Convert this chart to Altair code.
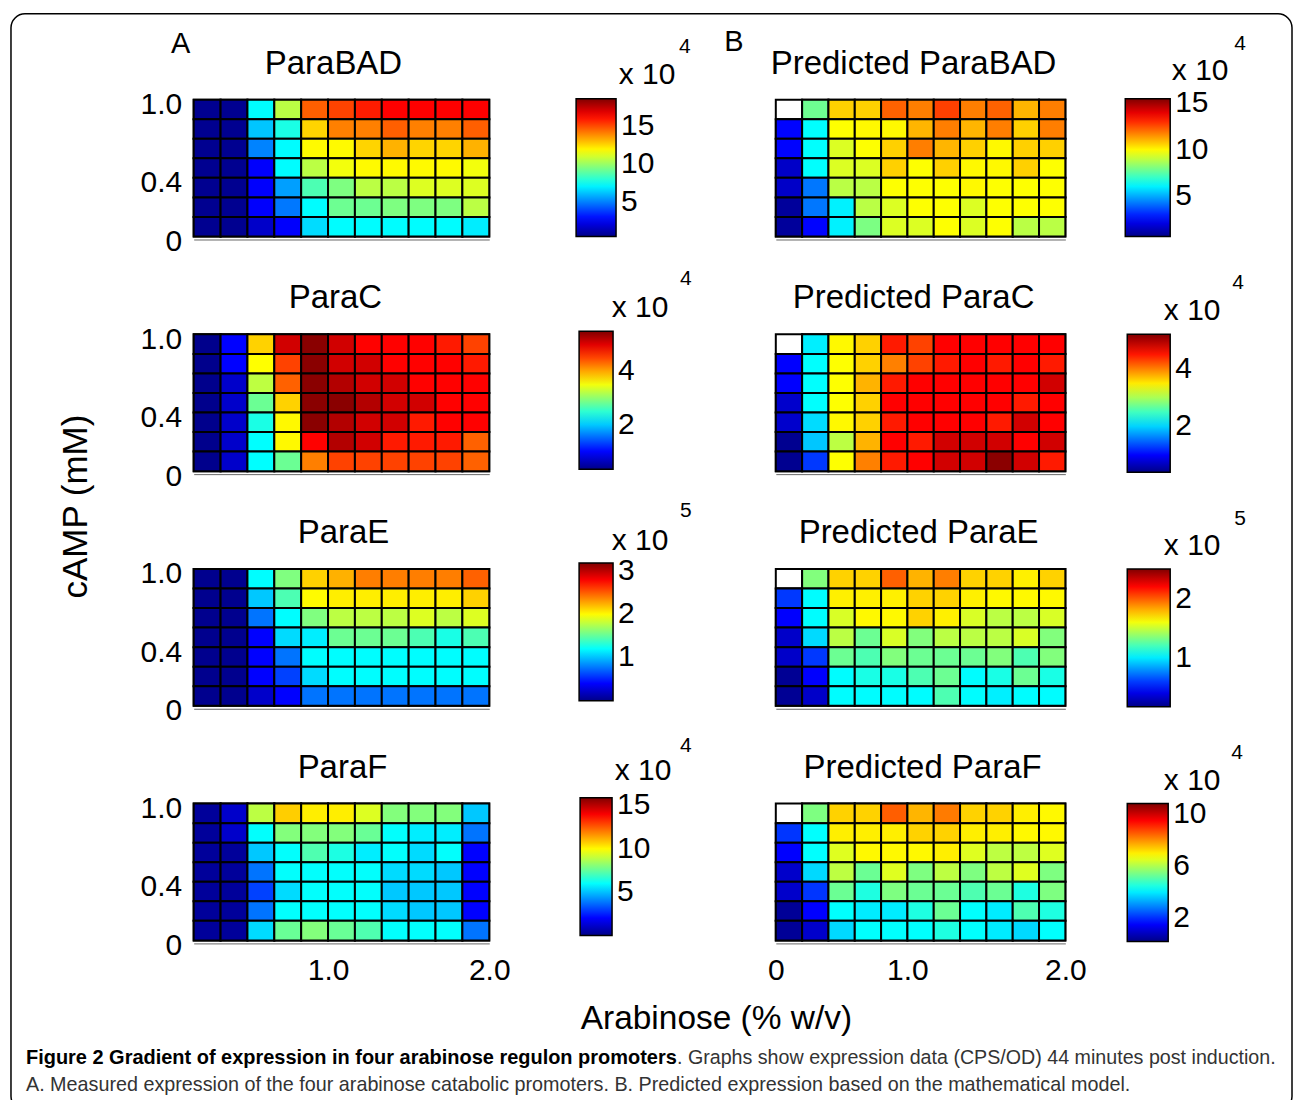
import altair as alt
import pandas as pd

FONT = "Liberation Sans"

# ---------------- data (rows listed from cAMP = 1.0 at top down to cAMP = 0) -------------
PARABAD = [
    [0.5, 0.5, 7.2, 10.6, 14.7, 15.2, 15.9, 16.4, 16.4, 16.4, 16.4],
    [0.5, 0.5, 6.2, 7.7, 12.6, 14.1, 14.1, 14.7, 14.1, 14.1, 14.7],
    [0.5, 0.5, 5.0, 7.2, 11.9, 11.9, 12.6, 13.2, 12.6, 12.6, 13.2],
    [0.5, 0.5, 2.6, 7.2, 10.6, 11.6, 11.9, 11.9, 11.9, 11.9, 11.6],
    [0.5, 0.5, 2.6, 5.5, 8.6, 9.5, 10.6, 10.6, 11.2, 11.2, 11.2],
    [0.5, 0.5, 2.6, 4.8, 7.2, 9.2, 9.2, 9.5, 9.5, 9.5, 10.6],
    [0.5, 0.5, 1.6, 2.6, 6.6, 7.2, 7.2, 7.2, 7.2, 7.2, 6.9],
]
PRED_PARABAD = [
    [None, 7.8, 10.6, 10.6, 12.2, 11.8, 12.7, 11.8, 12.2, 11.0, 11.8],
    [2.5, 6.2, 9.9, 10.0, 10.0, 11.0, 11.8, 11.0, 11.8, 10.6, 11.8],
    [2.5, 6.2, 9.4, 9.9, 10.6, 11.8, 11.0, 10.6, 10.0, 10.6, 10.6],
    [1.6, 6.2, 9.4, 9.4, 10.6, 9.9, 10.6, 10.0, 10.0, 10.6, 9.9],
    [1.6, 4.2, 8.9, 8.9, 9.9, 9.9, 9.9, 10.0, 9.9, 9.9, 9.9],
    [0.9, 4.2, 6.0, 8.9, 9.4, 9.9, 9.9, 9.4, 9.9, 9.9, 9.9],
    [0.9, 2.5, 6.0, 8.0, 9.4, 9.4, 9.9, 9.4, 9.9, 8.9, 8.9],
]
PARAC = [
    [0.35, 0.98, 3.79, 5.09, 5.45, 5.09, 4.85, 4.85, 4.85, 4.72, 4.52],
    [0.35, 0.98, 3.56, 4.52, 5.45, 5.09, 5.09, 4.85, 4.85, 4.85, 4.72],
    [0.35, 0.69, 3.23, 4.36, 5.45, 5.24, 5.09, 5.09, 4.85, 4.85, 4.85],
    [0.35, 0.69, 2.81, 3.79, 5.45, 5.45, 5.24, 5.09, 5.09, 4.85, 4.85],
    [0.35, 0.69, 2.40, 3.59, 5.45, 5.24, 5.09, 5.09, 4.72, 4.85, 4.85],
    [0.35, 0.69, 2.27, 3.59, 4.85, 5.24, 5.09, 4.72, 4.72, 4.72, 4.36],
    [0.35, 0.69, 2.27, 2.81, 4.21, 4.52, 4.52, 4.52, 4.52, 4.52, 4.36],
]
PRED_PARAC = [
    [None, 2.13, 3.43, 3.62, 4.48, 4.29, 4.6, 4.6, 4.6, 4.6, 4.6],
    [1.01, 2.21, 3.40, 3.62, 4.0, 4.29, 4.48, 4.6, 4.48, 4.6, 4.48],
    [1.01, 2.21, 3.40, 3.76, 4.48, 4.6, 4.6, 4.6, 4.6, 4.6, 4.82],
    [0.75, 2.21, 3.40, 3.62, 4.6, 4.6, 4.6, 4.6, 4.6, 4.48, 4.6],
    [0.75, 2.04, 3.43, 3.62, 4.48, 4.6, 4.6, 4.6, 4.48, 4.82, 4.6],
    [0.45, 1.94, 3.09, 3.76, 4.6, 4.48, 4.82, 4.82, 4.82, 4.6, 4.82],
    [0.45, 1.27, 3.40, 4.0, 4.48, 4.6, 4.82, 4.82, 5.15, 4.82, 4.48],
]
PARAE = [
    [0.02, 0.02, 1.19, 1.59, 2.13, 2.23, 2.39, 2.39, 2.39, 2.39, 2.48],
    [0.02, 0.02, 1.02, 1.43, 2.0, 2.04, 2.04, 2.04, 2.04, 2.04, 2.13],
    [0.02, 0.02, 0.76, 1.19, 1.59, 1.78, 1.78, 1.78, 1.88, 1.78, 1.88],
    [0.02, 0.02, 0.40, 1.08, 1.14, 1.53, 1.53, 1.53, 1.43, 1.27, 1.43],
    [0.02, 0.02, 0.40, 0.76, 1.19, 1.19, 1.19, 1.19, 1.19, 1.19, 1.19],
    [0.02, 0.02, 0.40, 0.60, 1.08, 1.19, 1.19, 1.19, 1.19, 1.19, 1.19],
    [0.02, 0.02, 0.22, 0.40, 0.76, 0.76, 0.76, 0.76, 0.76, 0.76, 0.76],
]
PRED_PARAE = [
    [None, 1.34, 1.73, 1.73, 1.99, 1.80, 1.92, 1.73, 1.73, 1.66, 1.73],
    [0.59, 1.04, 1.66, 1.66, 1.66, 1.73, 1.73, 1.66, 1.64, 1.64, 1.64],
    [0.46, 1.04, 1.54, 1.64, 1.64, 1.73, 1.66, 1.54, 1.47, 1.47, 1.54],
    [0.33, 0.96, 1.47, 1.29, 1.54, 1.34, 1.47, 1.47, 1.47, 1.54, 1.34],
    [0.33, 0.59, 1.29, 1.22, 1.34, 1.29, 1.29, 1.29, 1.34, 1.22, 1.34],
    [0.20, 0.46, 1.04, 1.10, 1.10, 1.22, 1.29, 1.04, 1.10, 1.29, 1.10],
    [0.20, 0.33, 1.04, 1.04, 1.04, 1.04, 1.22, 1.04, 1.01, 1.04, 1.04],
]
PARAF = [
    [0.3, 1.1, 8.9, 10.7, 10.2, 10.2, 9.4, 8.0, 8.0, 8.0, 5.1],
    [0.3, 1.1, 6.0, 8.0, 8.0, 8.0, 7.6, 6.0, 5.7, 5.7, 3.8],
    [0.3, 0.3, 5.1, 6.0, 7.2, 6.4, 5.7, 6.0, 5.4, 6.0, 2.0],
    [0.3, 0.3, 3.8, 6.0, 6.0, 6.0, 6.0, 5.4, 5.4, 5.1, 2.0],
    [0.3, 0.3, 3.0, 5.4, 6.0, 6.0, 6.0, 5.1, 5.1, 5.1, 2.0],
    [0.3, 0.3, 3.8, 6.0, 6.0, 6.0, 6.0, 5.4, 5.1, 5.1, 2.0],
    [0.3, 0.3, 5.4, 7.6, 8.0, 7.6, 7.2, 6.0, 6.0, 6.0, 3.8],
]
PRED_PARAF = [
    [None, 5.5, 7.3, 7.3, 8.5, 7.6, 8.2, 7.3, 7.3, 7.0, 6.9],
    [2.1, 4.2, 7.0, 7.0, 7.0, 7.3, 7.3, 7.0, 7.0, 6.9, 6.9],
    [1.55, 4.2, 6.5, 6.9, 6.9, 6.9, 7.0, 6.5, 6.15, 6.15, 6.5],
    [0.97, 3.8, 6.15, 5.3, 6.5, 5.5, 6.15, 5.5, 6.15, 6.5, 5.5],
    [0.97, 2.1, 5.3, 4.5, 5.5, 5.3, 5.3, 5.0, 5.3, 4.5, 5.5],
    [0.4, 1.55, 4.2, 4.0, 4.0, 4.5, 5.3, 4.2, 4.0, 5.0, 4.5],
    [0.4, 0.97, 3.8, 4.2, 4.2, 4.2, 4.5, 4.2, 4.0, 3.8, 4.2],
]

GRIDS = [PARABAD, PRED_PARABAD, PARAC, PRED_PARAC, PARAE, PRED_PARAE, PARAF, PRED_PARAF]
TITLES = ["ParaBAD", "Predicted ParaBAD", "ParaC", "Predicted ParaC",
          "ParaE", "Predicted ParaE", "ParaF", "Predicted ParaF"]
C_LO = [0.35, 0.6, 0.33, 0.41, 0.0, 0.17, 0.0, 0.23]
C_HI = [18.7, 15.5, 5.5, 5.2, 3.18, 2.5, 15.9, 10.8]
C_TICKS = [[5, 10, 15], [5, 10, 15], [2, 4], [2, 4], [1, 2, 3], [1, 2], [5, 10, 15], [2, 6, 10]]
C_EXP = ["4", "4", "4", "4", "5", "5", "4", "4"]

X_TICKS_LEFT = [5, 11]
X_LABELS_LEFT = ["1.0", "2.0"]
X_TICKS_RIGHT = [0, 5, 11]
X_LABELS_RIGHT = ["0", "1.0", "2.0"]
Y_TICKS = [0, 3, 7]
Y_LABELS = ["0", "0.4", "1.0"]

N_COLS = 11
N_ROWS = 7

CAPTION_BOLD = "Figure 2 Gradient of expression in four arabinose regulon promoters"
CAPTION_REST = ". Graphs show expression data (CPS/OD) 44 minutes post induction."
CAPTION_LINE2 = ("A. Measured expression of the four arabinose catabolic promoters. "
                 "B. Predicted expression based on the mathematical model.")

# jet colormap
JET_T = [0.0, 0.125, 0.375, 0.625, 0.875, 1.0]
JET_C = ["#000088", "#0000ff", "#00ffff", "#ffff00", "#ff0000", "#800000"]

# ---------------- layout (pixels, relative to each panel's plot area) -------------------
H = 137
W_LEFT = 296
W_RIGHT = 290
TITLE_X = [140, 138, 142, 138, 150, 143, 149, 147]
TITLE_Y = -36
LEG_X = [383, 350, 386, 352, 386, 352, 387, 352]
LEG_Y = [-1, -1, -3, 0, -6, 0, -6, 0]
LEG_W = [40, 45, 34, 43, 34, 43, 32, 41]
X10_POS = [(454, -25), (425, -29), (447, -26), (417, -23),
           (447, -28), (417, -23), (450, -33), (417, -23)]
EXP_POS = [(492, -53), (465, -56), (493, -55), (463, -51),
           (493, -58), (465, -50), (493, -58), (462, -51)]


def to_df(grid):
    recs = []
    for r, row in enumerate(grid):
        yb = N_ROWS - 1 - r
        for c, v in enumerate(row):
            recs.append({"x0": c, "x1": c + 1, "y0": yb, "y1": yb + 1, "v": v})
    return pd.DataFrame(recs)


def label_expr(ticks, labels):
    expr = "''"
    for t, l in zip(ticks, labels):
        expr = f"datum.value == {t} ? '{l}' : ({expr})"
    return expr


def text_layer(txt, x, y, size, weight="normal", align="left", color="black"):
    return alt.Chart(pd.DataFrame({"t": [txt]})).mark_text(
        font=FONT, fontSize=size, fontWeight=weight, align=align,
        baseline="middle", color=color
    ).encode(text="t:N", x=alt.value(x), y=alt.value(y))


def panel(i):
    col = i % 2
    row = i // 2
    left = col == 0
    bottom = row == 3
    w = W_LEFT if left else W_RIGHT
    df = to_df(GRIDS[i])

    xt = X_TICKS_LEFT if left else X_TICKS_RIGHT
    xl = X_LABELS_LEFT if left else X_LABELS_RIGHT
    xaxis_kw = dict(
        values=xt, labelExpr=label_expr(xt, xl), labels=bottom, ticks=False,
        grid=False, domain=True, domainColor="#666666", domainWidth=1, offset=3,
        labelFont=FONT, labelFontSize=30, labelColor="black", labelPadding=12,
        labelFlush=False, title="",
    )
    if left and bottom:
        xaxis_kw.update(title="Arabinose (% w/v)", titleFont=FONT, titleFontSize=33.5,
                        titleFontWeight="normal", titleColor="black",
                        titleX=523, titleY=75, titleAlign="center", titleBaseline="middle")
    yaxis_kw = dict(
        values=Y_TICKS, labelExpr=label_expr(Y_TICKS, Y_LABELS), labels=left,
        ticks=False, grid=False, domain=False, labelFont=FONT, labelFontSize=30,
        labelColor="black", labelPadding=12, labelOffset=5, labelFlush=False, title="",
    )
    if left and row == 1:
        yaxis_kw.update(title="cAMP (mM)", titleFont=FONT, titleFontSize=35,
                        titleFontWeight="normal", titleColor="black",
                        titleX=-118, titleY=172, titleAngle=270,
                        titleAlign="center", titleBaseline="middle")

    x = alt.X("x0:Q", scale=alt.Scale(domain=[0, N_COLS], nice=False, zero=False),
              axis=alt.Axis(**xaxis_kw))
    y = alt.Y("y0:Q", scale=alt.Scale(domain=[0, N_ROWS], nice=False, zero=False),
              axis=alt.Axis(**yaxis_kw))

    lo, hi = C_LO[i], C_HI[i]
    stops = [lo + (hi - lo) * t for t in JET_T]
    legend = alt.Legend(
        orient="none", legendX=LEG_X[i], legendY=LEG_Y[i],
        direction="vertical", gradientLength=H + 1, gradientThickness=LEG_W[i],
        gradientStrokeColor="black", gradientStrokeWidth=1.5,
        values=C_TICKS[i], labelFont=FONT, labelFontSize=30, labelColor="black",
        labelOffset=5, labelOverlap=False, title=None,
    )
    color = alt.Color("v:Q", scale=alt.Scale(domain=stops, range=JET_C, interpolate="rgb",
                                             zero=False), legend=legend)

    bg = alt.Chart(df).mark_rect(fill="white", stroke="black", strokeWidth=2).encode(
        x=x, x2="x1:Q", y=y, y2="y1:Q")
    cells = alt.Chart(df).transform_filter("isValid(datum.v)").mark_rect(
        stroke="black", strokeWidth=2).encode(x=x, x2="x1:Q", y=y, y2="y1:Q", color=color)

    layers = [bg, cells]
    layers.append(text_layer(TITLES[i], TITLE_X[i], TITLE_Y, 33, align="center"))
    layers.append(text_layer("x 10", X10_POS[i][0], X10_POS[i][1], 30, align="center"))
    layers.append(text_layer(C_EXP[i], EXP_POS[i][0], EXP_POS[i][1], 21, align="center"))
    if i == 0:
        frame = alt.Chart(pd.DataFrame({"k": [0]})).mark_rect(
            fillOpacity=0, stroke="black", strokeWidth=1.5, cornerRadius=14
        ).encode(x=alt.value(-183), x2=alt.value(1100), y=alt.value(-86), y2=alt.value(1012))
        layers.append(frame)
        layers.append(text_layer("A", -13, -56, 29, align="center"))
    if i == 1:
        layers.append(text_layer("B", -42, -58, 29, align="center"))
    if i == 6:
        layers.append(text_layer(CAPTION_BOLD, -168, 255, 20, weight="bold"))
        layers.append(text_layer(CAPTION_REST, 484, 255, 19.7, color="#333333"))
        layers.append(text_layer(CAPTION_LINE2, -168, 282, 19.8, color="#333333"))

    return alt.layer(*layers).properties(width=w, height=H)


panels = [panel(i) for i in range(8)]

chart = alt.concat(
    *panels, columns=2, spacing={"row": 98, "column": 287}, bounds="flush"
).resolve_scale(color="independent").properties(
    padding={"left": 10, "top": 12, "right": 2, "bottom": 2},
    background="white",
).configure_view(strokeOpacity=0)

chart.save("out.html", embed_options={"renderer": "svg", "actions": False})
